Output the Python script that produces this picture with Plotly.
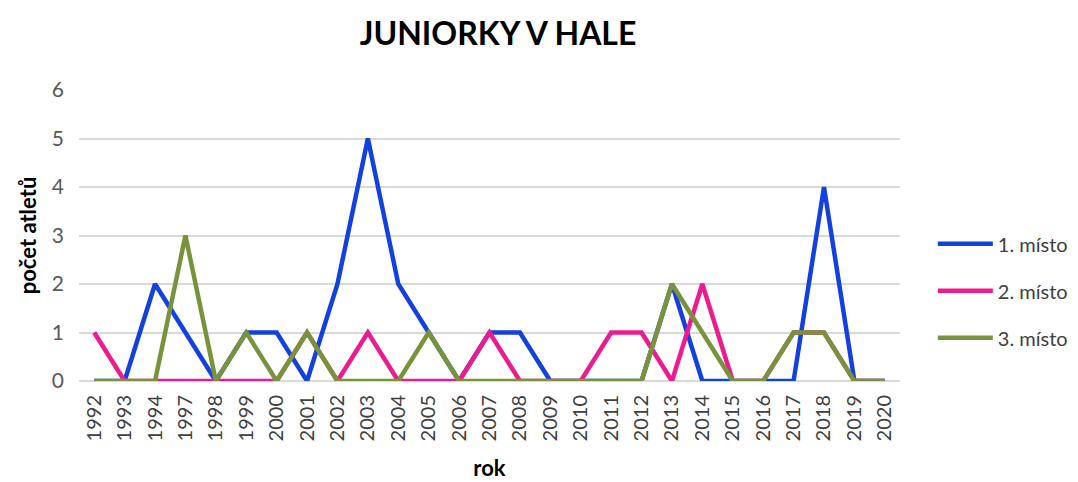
import plotly.graph_objects as go

years = ["1992","1993","1994","1997","1998","1999","2000","2001","2002","2003",
         "2004","2005","2006","2007","2008","2009","2010","2011","2012","2013",
         "2014","2015","2016","2017","2018","2019","2020"]
first = [0,0,2,1,0,1,1,0,2,5,2,1,0,1,1,0,0,0,0,2,0,0,0,0,4,0,0]
second = [1,0,0,0,0,0,0,1,0,1,0,0,0,1,0,0,0,1,1,0,2,0,0,1,1,0,0]
third = [0,0,0,3,0,1,0,1,0,0,0,1,0,0,0,0,0,0,0,2,1,0,0,1,1,0,0]
names = ["1. místo", "2. místo", "3. místo"]
colors = ["#1341E0", "#EC1C8E", "#77933C"]

FONT = "Lato"
fig = go.Figure()
for i, (vals, name, col) in enumerate(zip([first, second, third], names, colors)):
    fig.add_trace(go.Scatter(x=years, y=vals, name=name, mode="lines",
                             line=dict(color=col, width=4.5), legendgroup=str(i)))

fig.update_layout(
    width=1078, height=482,
    paper_bgcolor="white", plot_bgcolor="white",
    margin=dict(l=79, r=178, t=90, b=101, autoexpand=False),
    title=dict(text="<b>JUNIORKY V HALE</b>", x=0.462, xanchor="center", y=0.93, yanchor="middle",
               font=dict(family=FONT, size=32, color="black")),
    font=dict(family=FONT, color="#595959"),
    legend=dict(x=1.04, xanchor="left", y=0.31, yanchor="middle",
                font=dict(family=FONT, size=20, color="#404040"),
                tracegroupgap=18, itemwidth=55, bgcolor="rgba(0,0,0,0)"),
    showlegend=True,
)
fig.update_xaxes(type="category", tickangle=-90, tickfont=dict(size=20, color="#404040"),
                 showgrid=False, showline=False, ticks="", range=[-0.5, 26.5], automargin=False,
                 ticklabelstandoff=9,
                 title=dict(text="<b>rok</b>", font=dict(size=22, color="black"), standoff=20))
fig.update_yaxes(range=[0, 6], dtick=1, showgrid=True, gridcolor="#D9D9D9", gridwidth=1.5,
                 zeroline=True, zerolinecolor="#D9D9D9", zerolinewidth=1.5, automargin=False,
                 tickfont=dict(size=21, color="#595959"), ticks="", ticklabelstandoff=14,
                 title=dict(text="<b>počet atletů</b>", font=dict(size=22, color="black"), standoff=9))
fig.write_html("out.html", config={"displayModeBar": False},
               post_script="document.body.style.margin='0';")
